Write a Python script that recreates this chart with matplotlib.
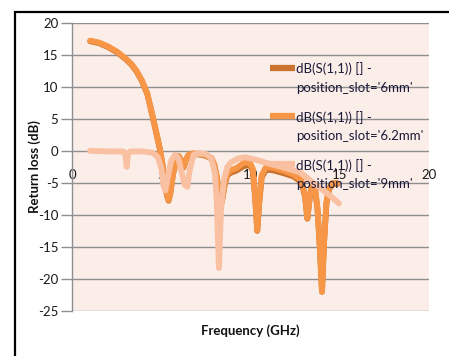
import matplotlib
matplotlib.use("Agg")
import matplotlib.pyplot as plt
from matplotlib.patches import Rectangle

# ---- data ----
f_62 = [1.0, 1.5, 2.0, 2.5, 3.0, 3.3, 3.6, 3.9, 4.2, 4.5, 4.7, 4.9, 5.05, 5.2, 5.3, 5.4,
        5.5, 5.65, 5.85, 5.98, 6.12, 6.24, 6.36, 6.52, 6.8, 7.2, 7.5, 7.8, 7.95, 8.1, 8.25,
        8.38, 8.55, 8.7, 8.9, 9.2, 9.6, 9.95, 10.12, 10.25, 10.37, 10.48, 10.62, 10.85,
        11.2, 11.85, 12.4, 12.85, 13.05, 13.18, 13.32, 13.45, 13.6, 13.75, 13.88, 14.0,
        14.12, 14.25, 14.4, 14.6, 14.85]
db_62 = [17.2, 16.9, 16.3, 15.5, 14.4, 13.6, 12.5, 11.0, 9.0, 5.5, 3.0, 0.5, -2.0, -5.0,
         -6.8, -7.7, -6.5, -3.5, -1.2, -0.8, -1.6, -2.5, -1.4, -0.6, -0.4, -0.5, -0.7,
         -1.1, -2.0, -4.0, -7.0, -8.0, -5.0, -3.5, -3.0, -2.7, -1.9, -1.8, -2.8, -7.0,
         -12.4, -8.0, -3.8, -2.6, -2.6, -3.1, -3.7, -4.6, -7.0, -10.5, -7.0, -5.0, -5.5,
         -9.0, -15.0, -22.0, -14.0, -8.0, -5.8, -5.0, -5.0]

f_6 = [1.0, 1.5, 2.0, 2.5, 3.0, 3.3, 3.6, 3.9, 4.2, 4.5, 4.7, 4.9, 5.05, 5.2, 5.3, 5.4,
       5.5, 5.65, 5.85, 5.98, 6.12, 6.24, 6.36, 6.52, 6.8, 7.2, 7.5, 7.8, 7.95, 8.1, 8.25,
       8.38, 8.55, 8.7, 8.9, 9.2, 9.6, 9.95, 10.12, 10.25, 10.37, 10.48, 10.62, 10.85,
       11.2, 11.85, 12.4, 12.85, 13.05, 13.18, 13.32, 13.45, 13.6, 13.75, 13.88, 14.0,
       14.12, 14.25, 14.4, 14.6, 14.85]
db_6 = [17.1, 16.8, 16.2, 15.4, 14.3, 13.5, 12.4, 10.9, 8.9, 5.4, 2.9, 0.4, -2.1, -5.1,
        -6.9, -7.8, -6.6, -3.6, -1.3, -0.9, -1.7, -2.6, -1.5, -0.7, -0.5, -0.6, -0.8,
        -1.2, -2.1, -4.1, -7.1, -8.1, -5.2, -3.8, -3.4, -3.1, -2.4, -2.2, -3.1, -7.2,
        -12.5, -8.2, -4.1, -3.0, -3.0, -3.5, -4.0, -4.9, -7.2, -10.6, -7.2, -5.2, -5.7,
        -9.2, -15.2, -22.0, -14.2, -8.2, -6.0, -5.2, -5.2]

f_9 = [1.0, 2.0, 2.85, 2.97, 3.05, 3.13, 3.25, 4.0, 4.5, 4.8, 5.0, 5.12, 5.22, 5.35,
       5.55, 5.78, 5.95, 6.1, 6.3, 6.45, 6.58, 6.8, 7.1, 7.5, 7.8, 8.0, 8.1, 8.22, 8.34,
       8.5, 8.7, 8.9, 9.3, 9.7, 10.3, 10.9, 11.85, 12.8, 13.5, 14.0, 14.5, 14.95]
db_9 = [0.0, -0.1, -0.1, -0.4, -2.5, -0.4, -0.1, -0.1, -0.3, -1.0, -2.8, -5.5, -6.2,
        -4.2, -1.5, -0.6, -1.2, -3.0, -5.3, -5.6, -3.0, -0.6, -0.4, -0.5, -1.2, -3.5,
        -8.0, -18.3, -9.0, -4.5, -2.5, -1.8, -1.2, -1.0, -1.4, -1.9, -2.6, -3.4, -5.0,
        -6.0, -7.1, -8.2]

label_line1 = ["dB(S(1,1)) [] -", "dB(S(1,1)) [] -", "dB(S(1,1)) [] -"]
label_line2 = ["position_slot='6mm'", "position_slot='6.2mm'", "position_slot='9mm'"]
colors = ["#C9732F", "#F79646", "#F9C0A2"]
x_ticks = [0, 5, 10, 15, 20]
y_ticks = [20, 15, 10, 5, 0, -5, -10, -15, -20, -25]

plt.rcParams['font.family'] = ['Lato', 'DejaVu Sans']

fig = plt.figure(figsize=(4.49, 3.56), dpi=100)
fig.patch.set_facecolor('white')
ax = fig.add_axes([72.3 / 449, 1 - 311 / 356, (429 - 72.3) / 449, (311 - 22.7) / 356])
ax.set_facecolor('#FBEDE7')

for yv in y_ticks:
    ax.axhline(yv, color='#8f8f8f', lw=1.0, zorder=1)

series = [(f_6, db_6), (f_62, db_62), (f_9, db_9)]
for i, (fx, dy) in enumerate(series):
    ax.plot(fx, dy, color=colors[i], lw=4.2, zorder=3 + i,
            solid_capstyle='round', solid_joinstyle='round')

ax.set_xlim(0, 20)
ax.set_ylim(-25, 20)
ax.set_xticks(x_ticks)
ax.set_yticks(y_ticks)
ax.set_xticklabels([str(v) for v in x_ticks])
ax.set_yticklabels([str(v) for v in y_ticks])

for s in ['top', 'right', 'bottom']:
    ax.spines[s].set_visible(False)
ax.spines['left'].set_color('#8f8f8f')
ax.spines['left'].set_linewidth(1.0)
ax.tick_params(axis='y', length=8, width=1.0, color='#8f8f8f', pad=2,
               labelsize=9.5, labelcolor='#1a1a1a')
ax.tick_params(axis='x', length=0, labelsize=9.5, colors='#1a1a1a')
# x tick labels sit just under the zero line (axis crosses at 0)
ax.spines['bottom'].set_position(('data', 0))
ax.tick_params(axis='x', pad=13)

ax.set_ylabel('Return loss (dB)', fontsize=9.5, fontweight='bold', color='#111111')
ax.yaxis.set_label_coords(-0.088, 0.5)
ax.set_xlabel('Frequency (GHz)', fontsize=9.5, fontweight='bold', color='#111111')
ax.xaxis.set_label_coords(0.5, -0.045)

# legend drawn in axes fraction (Excel-like: handle beside the first text line)
leg_y = [0.844, 0.676, 0.510]
line_gap = 0.066
for i in range(3):
    ax.plot([0.554, 0.624], [leg_y[i], leg_y[i]], transform=ax.transAxes,
            color=colors[i], lw=4.5, solid_capstyle='butt', zorder=7, clip_on=False)
    ax.text(0.628, leg_y[i] - 0.004, label_line1[i], transform=ax.transAxes,
            fontsize=9.5, va='center', ha='left', color='#1a1a3a', zorder=8)
    ax.text(0.628, leg_y[i] - 0.004 - line_gap, label_line2[i], transform=ax.transAxes,
            fontsize=9.5, va='center', ha='left', color='#1a1a3a', zorder=8)

fig.add_artist(Rectangle((14.7 / 449, -0.2), 1.2, 0.2 + (1 - 12 / 356), fill=False,
                         edgecolor='black', lw=1.6, transform=fig.transFigure,
                         clip_on=False))

fig.savefig('out.png', dpi=100)
